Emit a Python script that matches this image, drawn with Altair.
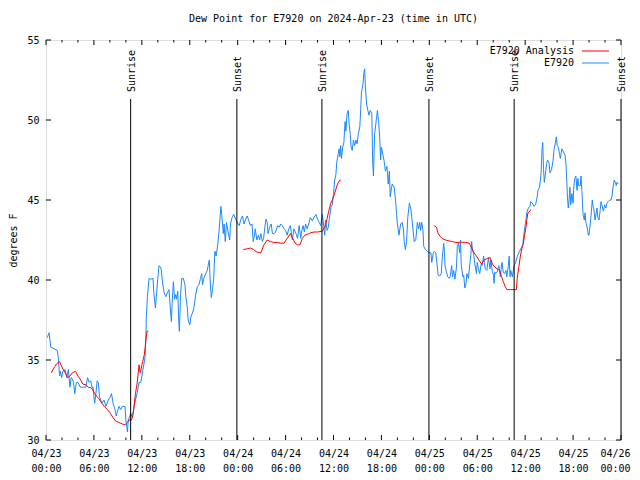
import altair as alt
import pandas as pd

# ---------------- data (hours since 2024-04-23 00:00 UTC) ----------------
blue_h = [0.16,0.38,0.6,1.0,1.4,1.55,1.7,1.8,1.96,2.1,2.4,2.6,2.8,3.0,3.15,3.3,3.45,3.6,3.8,4.0,
          4.3,4.7,5.0,5.2,5.4,5.6,5.75,5.9,6.0,6.1,6.25,6.4,6.55,6.7,7.0,7.26,7.5,7.8,8.05,8.2,
          8.4,8.64,8.8,8.95,9.14,9.35,9.56,9.9,10.0,10.2,10.3,10.5,10.6,10.8,11.0,11.2,11.4,11.65,11.86,11.95,
          12.1,12.25,12.4,12.5,12.56,12.7,12.9,13.1,13.4,13.5,13.7,13.85,14.0,14.15,14.4,14.6,14.8,15.0,15.2,15.4,
          15.6,15.7,15.8,15.95,16.1,16.25,16.35,16.5,16.6,16.7,16.85,17.0,17.2,17.4,17.5,17.7,17.8,18.0,18.15,18.3,
          18.5,18.75,18.95,19.15,19.35,19.5,19.6,19.75,20.0,20.2,20.3,20.45,20.55,20.7,20.85,21.0,21.15,21.3,21.5,21.66,
          21.9,22.0,22.2,22.3,22.45,22.6,22.8,23.0,23.1,23.3,23.5,23.75,24.05,24.2,24.4,24.6,24.8,25.0,25.2,25.4,
          25.6,25.8,25.95,26.1,26.2,26.4,26.6,26.75,26.9,27.1,27.25,27.4,27.55,27.7,27.8,28.0,28.2,28.35,28.55,28.75,
          29.0,29.2,29.4,29.6,29.8,30.0,30.2,30.4,30.6,30.85,31.05,31.3,31.5,31.7,31.9,32.0,32.2,32.35,32.5,32.7,
          32.9,33.1,33.35,33.55,33.8,34.0,34.2,34.4,34.6,34.75,34.9,35.0,35.2,35.35,35.5,35.7,35.85,36.0,36.15,36.3,
          36.4,36.6,36.7,36.8,36.9,37.0,37.15,37.3,37.45,37.55,37.7,37.85,37.95,38.1,38.2,38.35,38.5,38.65,38.8,38.95,
          39.1,39.3,39.4,39.5,39.7,39.8,39.9,40.0,40.15,40.3,40.45,40.6,40.8,40.9,41.0,41.15,41.4,41.5,41.65,41.8,
          41.9,42.0,42.2,42.35,42.5,42.7,42.85,43.0,43.1,43.35,43.6,43.8,43.9,44.0,44.2,44.4,44.6,44.75,44.85,45.0,
          45.15,45.3,45.5,45.7,45.8,45.95,46.1,46.3,46.5,46.65,46.8,46.9,47.05,47.2,47.3,47.5,47.75,47.95,48.2,48.3,
          48.5,48.6,48.8,48.96,49.1,49.3,49.5,49.6,49.8,49.9,49.96,50.1,50.3,50.5,50.6,50.8,50.9,51.05,51.2,51.4,
          51.5,51.65,51.8,51.9,52.0,52.2,52.3,52.45,52.6,52.7,52.9,53.05,53.2,53.3,53.4,53.55,53.7,53.9,54.0,54.1,
          54.3,54.5,54.6,54.8,54.9,55.0,55.2,55.4,55.6,55.7,55.9,56.05,56.1,56.2,56.3,56.5,56.7,56.9,57.05,57.1,
          57.25,57.4,57.6,57.7,57.9,58.0,58.1,58.2,58.4,58.6,58.8,59.0,59.3,59.6,59.7,59.9,60.1,60.2,60.4,60.6,
          60.7,60.9,61.1,61.3,61.5,61.6,61.8,62.0,62.1,62.2,62.3,62.4,62.6,62.7,62.8,63.0,63.1,63.3,63.5,63.6,
          63.8,63.9,64.0,64.15,64.3,64.4,64.5,64.6,64.8,65.0,65.1,65.2,65.3,65.4,65.5,65.6,65.7,65.85,66.0,66.1,
          66.2,66.35,66.5,66.6,66.7,66.9,67.0,67.1,67.25,67.4,67.5,67.6,67.8,67.9,68.0,68.1,68.3,68.4,68.5,68.6,
          68.75,68.9,69.0,69.1,69.25,69.4,69.5,69.7,69.8,69.95,70.1,70.25,70.4,70.6,70.75,70.9,71.0,71.15,71.3,71.4,
          71.5,71.65]
blue_v = [36.4,36.7,35.8,35.7,35.6,35.1,34.0,34.3,33.9,34.3,34.4,33.9,34.4,33.3,33.9,33.8,33.6,32.9,33.6,33.6,
          33.3,33.3,33.3,33.9,33.6,33.7,33.3,33.3,32.7,32.3,32.9,33.7,33.6,32.7,32.3,32.5,32.1,32.5,32.7,32.9,
          32.3,31.9,31.5,31.8,32.1,31.9,32.1,32.1,31.25,30.5,31.25,31.5,31.7,31.4,32.0,32.5,32.9,33.6,33.6,33.8,
          34.3,34.7,35.2,36.25,37.6,38.96,40.1,40.05,40.1,39.2,38.25,39.2,40.1,40.9,40.75,39.8,39.2,38.96,39.2,39.4,
          38.0,37.4,38.6,39.9,38.8,39.1,38.8,39.3,37.7,36.8,39.1,40.1,40.1,39.7,39.0,38.25,37.5,37.2,37.7,37.9,
          38.2,39.1,39.6,39.7,40.1,40.4,39.7,40.1,40.4,40.6,40.9,41.25,40.0,38.9,39.4,40.1,41.8,41.5,42.2,43.0,
          44.6,44.1,42.9,43.5,42.4,43.6,43.0,42.5,43.5,43.9,44.1,43.8,43.5,43.4,43.8,44.0,43.5,43.8,44.0,43.7,
          43.4,43.5,42.4,42.8,43.2,42.5,42.8,42.5,42.9,42.4,42.6,43.3,43.8,43.6,42.9,43.3,43.5,42.9,42.9,43.0,
          43.4,43.3,43.5,43.4,43.2,43.1,42.8,43.2,43.4,42.5,43.2,42.9,42.6,43.4,42.6,43.0,43.4,43.0,43.5,43.2,
          43.5,43.9,43.7,43.9,44.1,43.8,43.6,43.4,44.1,43.5,42.8,43.75,43.1,43.3,43.9,44.6,44.7,45.4,46.25,46.6,
          47.3,47.9,48.2,47.7,48.4,47.6,48.3,48.6,49.9,49.3,50.4,50.6,49.8,49.1,48.3,48.1,48.75,48.4,48.75,48.5,
          49.1,49.6,50.6,51.7,52.3,52.9,53.2,52.0,51.0,50.6,50.3,50.6,50.4,47.5,46.5,49.1,50.2,50.6,49.9,48.75,
          47.5,48.3,47.8,47.4,46.8,47.1,46.0,46.8,45.2,46.0,45.8,44.8,44.1,43.5,42.8,43.5,43.6,43.2,42.4,41.9,
          42.4,43.9,44.8,44.4,43.9,43.2,42.4,42.5,43.6,43.2,43.6,43.1,43.6,43.1,42.1,41.9,41.8,41.7,41.7,41.1,
          41.7,41.8,41.7,41.0,40.3,40.25,40.4,41.3,42.3,41.7,40.9,40.6,40.2,40.1,40.2,40.9,40.2,40.6,40.05,40.8,
          42.1,42.3,41.7,42.5,40.9,40.2,40.3,39.5,39.8,40.4,40.1,40.9,41.6,42.4,41.9,41.6,41.0,40.4,41.1,40.8,
          40.4,41.0,40.9,41.5,41.1,40.7,40.6,41.4,40.7,41.25,40.5,40.3,39.8,40.5,40.4,40.5,40.9,40.2,41.0,41.1,
          40.5,40.4,40.6,40.2,40.9,41.5,40.2,40.6,40.2,40.9,41.1,41.45,41.8,42.1,42.2,43.1,43.75,44.2,44.5,44.6,
          44.9,44.8,44.6,44.7,45.2,45.6,45.8,46.7,48.1,48.6,46.9,46.1,46.9,47.3,47.5,47.3,46.7,46.9,47.5,48.1,
          48.6,48.95,48.4,48.3,47.9,47.6,47.9,48.2,48.0,47.8,47.3,46.35,45.1,44.5,45.0,45.8,44.7,45.4,44.8,45.9,
          46.35,46.5,45.6,46.35,45.9,45.9,46.5,45.6,44.1,43.75,44.2,43.6,43.2,42.8,42.8,43.3,44.3,45.0,44.6,44.4,
          43.75,44.2,44.5,43.9,43.75,44.4,44.9,44.5,44.3,44.7,44.5,44.8,44.9,45.0,45.0,45.3,45.8,46.25,46.1,45.9,
          46.1,46.0]

red1_h = [0.66,1.1,1.4,1.7,2.05,2.4,2.7,3.0,3.3,3.7,4.0,4.35,4.6,5.0,5.3,5.7,6.0,6.3,6.6,7.0,
          7.3,7.7,8.0,8.4,8.7,9.1,9.55,9.9,10.2,10.4,10.7,10.9,11.05,11.2,11.4,11.55,11.65,11.8,11.9,12.1,
          12.3,12.4,12.5,12.65,12.8]
red1_v = [34.2,34.6,34.8,34.9,34.5,34.2,33.9,34.0,34.2,34.3,34.0,33.75,33.5,33.45,33.3,33.25,33.0,32.75,32.6,32.3,
          32.1,31.9,31.7,31.4,31.2,31.1,31.0,30.95,31.1,31.25,31.25,31.6,32.2,32.9,33.5,34.2,34.7,34.2,34.4,34.9,
          35.3,35.7,36.25,36.8,36.8]
red2_h = [24.7,25.2,25.6,26.0,26.4,26.9,27.3,27.7,28.1,28.5,29.0,29.4,29.8,30.2,30.6,30.9,31.2,31.5,31.8,32.1,
          32.4,32.7,33.1,33.55,34.0,34.6,35.0,35.2,35.4,35.65,35.85,36.2,36.5,36.8,36.9]
red2_v = [41.9,41.95,42.0,41.9,41.75,41.7,42.2,42.5,42.4,42.35,42.35,42.3,42.3,42.6,42.9,42.6,42.3,42.2,42.2,42.6,
          42.8,42.85,42.95,43.0,43.0,43.05,43.4,43.85,44.3,44.8,45.0,45.5,46.0,46.25,46.25]
red3_h = [48.6,48.9,49.1,49.4,49.7,50.05,50.5,50.9,51.3,51.8,52.1,52.55,53.0,53.3,53.6,53.9,54.2,54.55,54.85,55.3,
          55.6,55.9,56.2,56.5,56.8,57.05,57.25,57.5,57.7,58.2,58.6,58.9,59.0,59.2,59.4,59.6,59.75,59.9,60.1,60.2,
          60.35,60.6,60.7]
red3_v = [43.4,43.3,42.9,42.7,42.56,42.5,42.44,42.4,42.35,42.35,42.36,42.35,42.3,42.0,41.7,41.5,41.25,41.0,41.25,41.35,
          41.4,41.0,40.8,40.7,40.6,40.2,39.9,39.6,39.4,39.4,39.4,39.4,40.1,40.8,41.5,42.0,42.2,42.7,43.3,43.75,
          44.2,44.3,44.4]

event_h = [10.6, 23.9, 34.55, 47.95, 58.62, 72.0]
event_lbl = ["Sunrise", "Sunset", "Sunrise", "Sunset", "Sunrise", "Sunset"]

x_major = list(range(0, 73, 6))
x_minor = [h for h in range(0, 73, 2) if h % 6 != 0]
y_ticks = [30, 35, 40, 45, 50, 55]

series_names = ["E7920 Analysis", "E7920"]
series_colors = ["#ff0000", "#1a88ff"]

# ---------------- chart ----------------
W, H = 575, 400
FONT = "DejaVu Sans Mono"

df_blue = pd.DataFrame({"h": blue_h, "v": blue_v})
df_red = pd.concat([
    pd.DataFrame({"h": red1_h, "v": red1_v, "seg": 1}),
    pd.DataFrame({"h": red2_h, "v": red2_v, "seg": 2}),
    pd.DataFrame({"h": red3_h, "v": red3_v, "seg": 3}),
], ignore_index=True)
df_ev = pd.DataFrame({"h": event_h, "label": event_lbl})
df_xmaj = pd.DataFrame({"h": x_major})
df_xmin = pd.DataFrame({"h": x_minor})
df_yt = pd.DataFrame({"v": y_ticks})

xs = alt.Scale(domain=[0, 72], nice=False, zero=False)
ys = alt.Scale(domain=[30, 55], nice=False, zero=False)

x_axis = alt.Axis(
    values=x_major,
    labelExpr="['04/' + (23 + floor(datum.value / 24)), (datum.value % 24 < 10 ? '0' : '') + (datum.value % 24) + ':00']",
    grid=False, ticks=False, domain=False, labelPadding=8, labelFlush=False,
    labelFont=FONT, labelFontSize=10, labelLineHeight=15, labelColor="black",
    labelAngle=0, labelBaseline="top", title=None, labelOverlap=False,
    labelOffset={"condition": {"test": "datum.value >= 72", "value": -6}, "value": 0},
)
y_axis = alt.Axis(
    values=y_ticks, grid=False, ticks=False, domain=False, labelPadding=7,
    labelFont=FONT, labelFontSize=10, labelColor="black",
    title="degrees F", titleFont=FONT, titleFontSize=10, titleFontWeight="normal",
    titleColor="black", titleX=-33, titleY=200, titleAngle=270,
    titleAlign="center", titleBaseline="middle",
)

X = lambda: alt.X("h:Q", scale=xs, axis=x_axis)
Y = lambda: alt.Y("v:Q", scale=ys, axis=y_axis)

blue = alt.Chart(df_blue).mark_line(color=series_colors[1], strokeWidth=1).encode(x=X(), y=Y())
red = alt.Chart(df_red).mark_line(color=series_colors[0], strokeWidth=1).encode(
    x=X(), y=Y(), detail="seg:N")
ev_rule = alt.Chart(df_ev).mark_rule(color="black", strokeWidth=1).encode(
    x=X(), y=alt.value(59), y2=alt.value(H))
ev_text = alt.Chart(df_ev).mark_text(
    angle=270, align="left", baseline="middle", font=FONT, fontSize=10, color="black", dy=1
).encode(x=X(), y=alt.value(52), text="label:N")

def xtick(df, y0, y1):
    return alt.Chart(df).mark_rule(color="black", strokeWidth=1).encode(
        x=X(), y=alt.value(y0), y2=alt.value(y1))

def ytick(x0, x1):
    return alt.Chart(df_yt).mark_rule(color="black", strokeWidth=1).encode(
        y=Y(), x=alt.value(x0), x2=alt.value(x1))

ticks = [
    xtick(df_xmaj, H, H - 5), xtick(df_xmaj, 0, 5),
    xtick(df_xmin, H, H - 2.5), xtick(df_xmin, 0, 2.5),
    ytick(0, 5), ytick(W - 5, W),
]

df_leg = pd.DataFrame({"name": series_names, "row": [0, 1]})
legend_layers = []
for i, (nm, col) in enumerate(zip(series_names, series_colors)):
    sub = df_leg[df_leg["row"] == i]
    legend_layers.append(
        alt.Chart(sub).mark_text(align="right", baseline="middle", font=FONT, fontSize=10, color="black")
        .encode(x=alt.value(528), y=alt.value(11 + 12 * i), text="name:N"))
    legend_layers.append(
        alt.Chart(sub).mark_rule(color=col, strokeWidth=1)
        .encode(x=alt.value(536), x2=alt.value(563), y=alt.value(11 + 12 * i)))

chart = alt.layer(blue, red, ev_rule, ev_text, *ticks, *legend_layers).properties(
    width=W, height=H,
    title=alt.Title("Dew Point for E7920 on 2024-Apr-23 (time in UTC)", font=FONT, fontSize=10,
                    fontWeight="normal", color="black", anchor="middle", offset=11),
    padding={"left": 38, "top": 32, "right": 11, "bottom": 32},
    autosize=alt.AutoSizeParams(type="none"),
).configure_view(stroke="black", strokeWidth=1).configure(background="white")

chart.save("out.html", embed_options={"renderer": "svg", "actions": False})
